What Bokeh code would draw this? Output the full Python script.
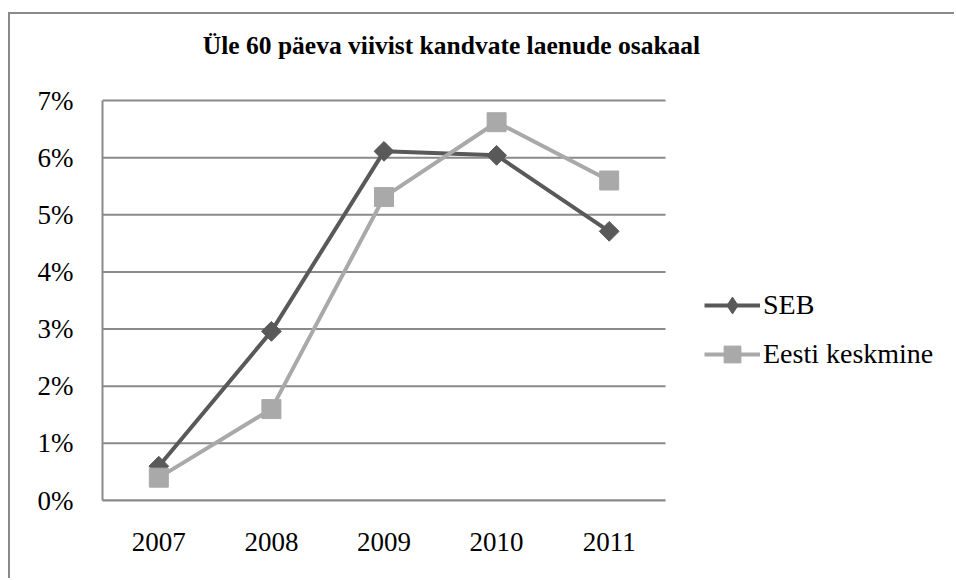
import numpy as np
from bokeh.plotting import figure
from bokeh.models import (Range1d, FixedTicker, NumeralTickFormatter,
                          Label, Legend, LegendItem)
from bokeh.embed import file_html
from bokeh.resources import INLINE

# ---- data -------------------------------------------------------------
years = ["2007", "2008", "2009", "2010", "2011"]
seb = [0.0060, 0.0296, 0.0611, 0.0604, 0.0471]
eesti = [0.0040, 0.0160, 0.0531, 0.0662, 0.0560]
y_ticks = [0.0, 0.01, 0.02, 0.03, 0.04, 0.05, 0.06, 0.07]
title_text = "Üle 60 päeva viivist kandvate laenude osakaal"
names = ["SEB", "Eesti keskmine"]

# ---- layout / style ---------------------------------------------------
FONT = "Liberation Serif"
GRID = "#8a8a8a"
DARK = "#595959"
LIGHT = "#a9a9a9"

W, H = 946, 566            # canvas size (inside 2px border + margins)
LEFT, BOTTOM = 92, 80      # space for axes
CHART_W, CHART_H = 563, 400  # pixel size of the value area (0-7%, 5 categories)
FW, FH = W - LEFT, H - BOTTOM

n = len(years)
xs = list(range(1, n + 1))
y_top = y_ticks[-1]
px_x = CHART_W / n          # px per category
px_y = CHART_H / y_top      # px per unit value

x_range = Range1d(0.5, 0.5 + FW / px_x)
y_range = Range1d(0, FH / px_y)

p = figure(width=W, height=H, x_range=x_range, y_range=y_range, title=None,
           output_backend="svg", toolbar_location=None,
           min_border_left=LEFT, min_border_right=0,
           min_border_top=0, min_border_bottom=BOTTOM)
p.styles = {"margin-left": "8px", "margin-top": "12px",
            "border-left": "2px solid #8a8a8a", "border-top": "2px solid #8a8a8a"}
p.outline_line_color = None
p.background_fill_color = "white"
p.border_fill_color = "white"

# ---- axes -------------------------------------------------------------
p.xaxis.ticker = FixedTicker(ticks=xs)
p.xaxis.major_label_overrides = {x: y for x, y in zip(xs, years)}
p.xaxis.bounds = (0.5, n + 0.5)
p.xaxis.axis_line_color = GRID
p.xaxis.axis_line_width = 2
p.xaxis.major_tick_line_color = None
p.xaxis.minor_tick_line_color = None
p.xaxis.major_label_text_font = FONT
p.xaxis.major_label_text_font_size = "27px"
p.xaxis.major_label_text_color = "black"
p.xaxis.major_label_standoff = 26

p.yaxis.ticker = FixedTicker(ticks=y_ticks)
p.yaxis.formatter = NumeralTickFormatter(format="0%")
p.yaxis.bounds = (0, y_top)
p.yaxis.axis_line_color = GRID
p.yaxis.axis_line_width = 2
p.yaxis.major_tick_line_color = None
p.yaxis.minor_tick_line_color = None
p.yaxis.major_label_text_font = FONT
p.yaxis.major_label_text_font_size = "27px"
p.yaxis.major_label_text_color = "black"
p.yaxis.major_label_standoff = 23

p.xgrid.grid_line_color = None
p.ygrid.grid_line_color = None

# horizontal gridlines across the value area only
p.segment(x0=0.5, x1=n + 0.5, y0=y_ticks, y1=y_ticks,
          line_color=GRID, line_width=2)

# ---- series -----------------------------------------------------------
l1 = p.line(xs, seb, line_width=4, line_color=DARK)
# legend-shaped diamond (hidden beneath the rotated squares in the plot)
k1 = p.scatter(xs, seb, marker="diamond", size=9, fill_color=DARK, line_color=DARK)
p.scatter(xs, seb, marker="square", angle=np.pi / 4, size=14,
          fill_color=DARK, line_color=DARK)
l2 = p.line(xs, eesti, line_width=4, line_color=LIGHT)
m2 = p.scatter(xs, eesti, marker="square", size=19,
               fill_color=LIGHT, line_color=LIGHT)

# ---- title ------------------------------------------------------------
TITLE_CX, TITLE_CY = 451 - 10, 45 - 14   # px from canvas top-left
p.add_layout(Label(x=0.5 + (TITLE_CX - LEFT) / px_x,
                   y=(FH - TITLE_CY) / px_y,
                   text=title_text, text_align="center", text_baseline="middle",
                   text_font=FONT, text_font_size="25.5px", text_font_style="bold",
                   text_color="black"))

# ---- legend -----------------------------------------------------------
legend = Legend(items=[LegendItem(label=names[0], renderers=[l1, k1]),
                       LegendItem(label=names[1], renderers=[l2, m2])],
                location=(602, 125), orientation="vertical",
                glyph_width=56, glyph_height=42, label_standoff=3,
                spacing=7, padding=0, margin=0,
                border_line_color=None, background_fill_alpha=0,
                label_text_font=FONT, label_text_font_size="28px",
                label_text_color="black")
p.add_layout(legend, "center")

open("out.html", "w").write(file_html(p, INLINE))
